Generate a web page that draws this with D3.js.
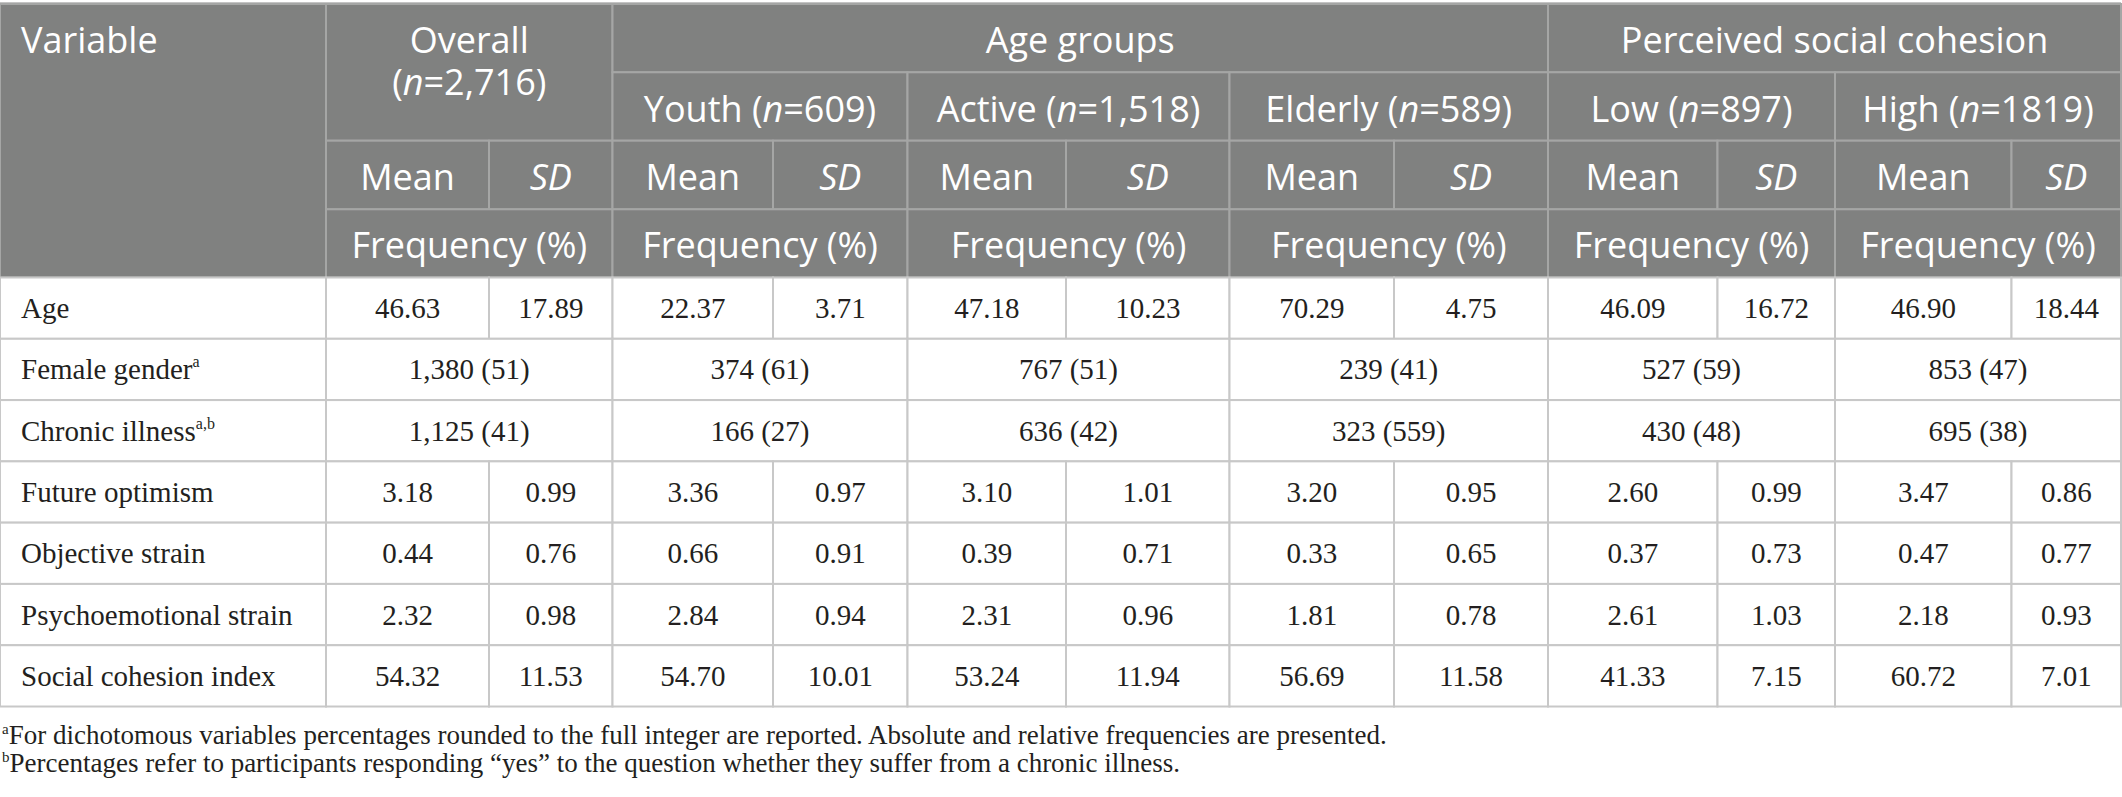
<!DOCTYPE html>
<html>
<head>
<meta charset="utf-8">
<script src="https://cdn.jsdelivr.net/npm/d3@7"></script>
<style>
  html, body { margin: 0; padding: 0; background: #fff; }
  svg { display: block; }
  .hd { font-family: "Open Sans", "Noto Sans", sans-serif; font-weight: 400; font-size: 36px; fill: #fff; }
  .bd { font-family: "Liberation Serif", "DejaVu Serif", serif; font-size: 29px; fill: #231f20; }
  .fn { font-family: "Liberation Serif", "DejaVu Serif", serif; font-size: 27px; fill: #231f20; }
</style>
</head>
<body>
<div id="chart"></div>
<script>
// ---- data ----
var groupLabels = ["Overall", "Youth", "Active", "Elderly", "Low", "High"];
var groupN = ["2,716", "609", "1,518", "589", "897", "1819"];
var bannerLabels = ["Age groups", "Perceived social cohesion"];

var variables = ["Age", "Female gender", "Chronic illness", "Future optimism",
                 "Objective strain", "Psychoemotional strain", "Social cohesion index"];
var variableNotes = ["", "a", "a,b", "", "", "", ""];

var ageMean = [46.63, 22.37, 47.18, 70.29, 46.09, 46.90];
var ageSD = [17.89, 3.71, 10.23, 4.75, 16.72, 18.44];
var femaleFreq = ["1,380 (51)", "374 (61)", "767 (51)", "239 (41)", "527 (59)", "853 (47)"];
var chronicFreq = ["1,125 (41)", "166 (27)", "636 (42)", "323 (559)", "430 (48)", "695 (38)"];
var optimismMean = [3.18, 3.36, 3.10, 3.20, 2.60, 3.47];
var optimismSD = [0.99, 0.97, 1.01, 0.95, 0.99, 0.86];
var objectiveMean = [0.44, 0.66, 0.39, 0.33, 0.37, 0.47];
var objectiveSD = [0.76, 0.91, 0.71, 0.65, 0.73, 0.77];
var psychoMean = [2.32, 2.84, 2.31, 1.81, 2.61, 2.18];
var psychoSD = [0.98, 0.94, 0.96, 0.78, 1.03, 0.93];
var cohesionMean = [54.32, 54.70, 53.24, 56.69, 41.33, 60.72];
var cohesionSD = [11.53, 10.01, 11.94, 11.58, 7.15, 7.01];

var footnotes = [
  { mark: "a", text: "For dichotomous variables percentages rounded to the full integer are reported. Absolute and relative frequencies are presented." },
  { mark: "b", text: "Percentages refer to participants responding \u201cyes\u201d to the question whether they suffer from a chronic illness." }
];

// ---- layout ----
var W = 2122, H = 797;
var colEdges = [0, 326, 489, 612.5, 773, 907.5, 1066, 1229.5, 1394, 1548, 1717.5, 1835, 2011.5, 2121];
var headRows = [4, 72.3, 140.7, 209.3, 277.5];
var HEAD_FILL = "#808180", HEAD_LINE = "#a5a6a5", BODY_LINE = "#c8c8c8";

var fmt = d3.format(".2f");

// each body row: either mean/sd pairs or merged frequency cells
var bodyRows = [
  { kind: "ms", a: ageMean, b: ageSD },
  { kind: "f", a: femaleFreq },
  { kind: "f", a: chronicFreq },
  { kind: "ms", a: optimismMean, b: optimismSD },
  { kind: "ms", a: objectiveMean, b: objectiveSD },
  { kind: "ms", a: psychoMean, b: psychoSD },
  { kind: "ms", a: cohesionMean, b: cohesionSD }
];

var yBody = d3.scaleLinear().domain([0, variables.length]).range([277.5, 706.5]);
var yHead = d3.scaleOrdinal().domain([0, 1, 2, 3, 4]).range(headRows);
var xCol = d3.scaleOrdinal().domain(d3.range(colEdges.length)).range(colEdges);

var svg = d3.select("#chart").append("svg")
  .attr("width", W)
  .attr("height", H);

// helper: draw a cell rect between column edges c0..c1 and y0..y1
function cell(g, c0, c1, y0, y1, fill, stroke) {
  g.append("rect")
    .attr("x", xCol(c0))
    .attr("y", y0)
    .attr("width", xCol(c1) - xCol(c0))
    .attr("height", y1 - y0)
    .attr("fill", fill)
    .attr("stroke", stroke)
    .attr("stroke-width", 2);
}

// ---- header ----
var head = svg.append("g");
head.append("line")
  .attr("x1", 0).attr("x2", 2121)
  .attr("y1", 3).attr("y2", 3)
  .attr("stroke", "#c4c4c4").attr("stroke-width", 2);

var headCells = [];
headCells.push({ c0: 0, c1: 1, r0: 0, r1: 4 });
headCells.push({ c0: 1, c1: 3, r0: 0, r1: 2 });
headCells.push({ c0: 3, c1: 9, r0: 0, r1: 1 });
headCells.push({ c0: 9, c1: 13, r0: 0, r1: 1 });
groupLabels.forEach(function(d, i) {
  if (i > 0) headCells.push({ c0: 1 + 2 * i, c1: 3 + 2 * i, r0: 1, r1: 2 });
  headCells.push({ c0: 1 + 2 * i, c1: 2 + 2 * i, r0: 2, r1: 3 });
  headCells.push({ c0: 2 + 2 * i, c1: 3 + 2 * i, r0: 2, r1: 3 });
  headCells.push({ c0: 1 + 2 * i, c1: 3 + 2 * i, r0: 3, r1: 4 });
});
headCells.forEach(function(d) {
  cell(head, d.c0, d.c1, yHead(d.r0), yHead(d.r1), HEAD_FILL, HEAD_LINE);
});

function headText(x, y, anchor) {
  return head.append("text")
    .attr("class", "hd")
    .attr("x", x)
    .attr("y", y)
    .attr("text-anchor", anchor || "middle");
}
function midX(c0, c1) { return (xCol(c0) + xCol(c1)) / 2; }
function rowBase(r) { return (yHead(r) + yHead(r + 1)) / 2 + 15; }

headText(21, rowBase(0), "start").text("Variable");

// Overall spans two header rows: one text, wrapped onto two lines
var ov = headText(midX(1, 3), rowBase(0));
ov.append("tspan").text(groupLabels[0]);
ov.append("tspan").attr("x", midX(1, 3)).attr("dy", 42).text("(");
ov.append("tspan").attr("font-style", "italic").text("n");
ov.append("tspan").text("=" + groupN[0] + ")");

headText(midX(3, 9), rowBase(0)).text(bannerLabels[0]);
headText(midX(9, 13), rowBase(0)).text(bannerLabels[1]);

groupLabels.forEach(function(d, i) {
  var c0 = 1 + 2 * i;
  if (i > 0) {
    var t = headText(midX(c0, c0 + 2), rowBase(1));
    t.append("tspan").text(d + " (");
    t.append("tspan").attr("font-style", "italic").text("n");
    t.append("tspan").text("=" + groupN[i] + ")");
  }
  headText(midX(c0, c0 + 1), rowBase(2)).text("Mean");
  headText(midX(c0 + 1, c0 + 2), rowBase(2)).attr("font-style", "italic").text("SD");
  headText(midX(c0, c0 + 2), rowBase(3)).text("Frequency (%)");
});

// ---- body ----
var body = svg.append("g");
bodyRows.forEach(function(row, r) {
  var y0 = yBody(r), y1 = yBody(r + 1);
  var base = (y0 + y1) / 2 + 10;
  cell(body, 0, 1, y0, y1, "#fff", BODY_LINE);

  var lab = body.append("text")
    .attr("class", "bd")
    .attr("x", 21)
    .attr("y", base)
    .text(variables[r]);
  if (variableNotes[r]) {
    lab.append("tspan")
      .attr("font-size", "16px")
      .attr("dy", -12)
      .text(variableNotes[r]);
  }

  groupLabels.forEach(function(g, i) {
    var c0 = 1 + 2 * i;
    if (row.kind === "ms") {
      cell(body, c0, c0 + 1, y0, y1, "#fff", BODY_LINE);
      cell(body, c0 + 1, c0 + 2, y0, y1, "#fff", BODY_LINE);
      body.append("text").attr("class", "bd")
        .attr("x", midX(c0, c0 + 1)).attr("y", base)
        .attr("text-anchor", "middle")
        .text(fmt(row.a[i]));
      body.append("text").attr("class", "bd")
        .attr("x", midX(c0 + 1, c0 + 2)).attr("y", base)
        .attr("text-anchor", "middle")
        .text(fmt(row.b[i]));
    } else {
      cell(body, c0, c0 + 2, y0, y1, "#fff", BODY_LINE);
      body.append("text").attr("class", "bd")
        .attr("x", midX(c0, c0 + 2)).attr("y", base)
        .attr("text-anchor", "middle")
        .text(row.a[i]);
    }
  });
});

// ---- footnotes ----
var notes = svg.append("g");
footnotes.forEach(function(d, i) {
  var t = notes.append("text")
    .attr("class", "fn")
    .attr("x", 2)
    .attr("y", 744 + i * 28);
  t.append("tspan").attr("font-size", "15px").attr("dy", -10).text(d.mark);
  t.append("tspan").attr("dy", 10).text(d.text);
});
</script>
</body>
</html>
